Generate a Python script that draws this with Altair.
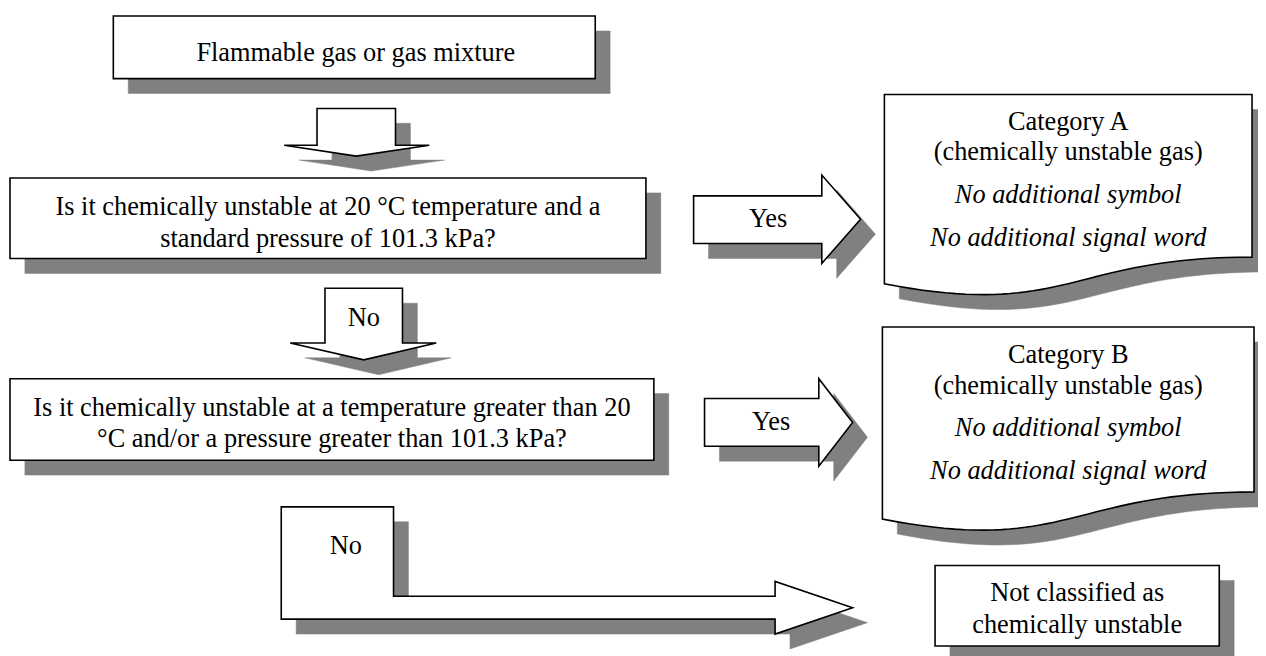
import altair as alt
import pandas as pd
import numpy as np

# ---------------- geometry (pixel units) ----------------
# rectangles
rect_names = ["start", "question_1", "question_2", "not_classified"]
rect_x0 = [114, 10, 10, 941]
rect_y0 = [14, 177, 379, 567]
rect_x1 = [599, 650, 658, 1227]
rect_y1 = [77, 258, 461, 648]

# downward block arrows
down_names = ["down_1", "down_2"]
down_shaft_x0 = [319, 327]
down_shaft_x1 = [398, 405]
down_top = [107, 288]
down_head_x0 = [286, 292]
down_head_x1 = [432, 439]
down_head_y = [144, 343]
down_tip_y = [155, 360]

# rightward block arrows ("Yes")
right_names = ["yes_1", "yes_2"]
right_x0 = [698, 709]
right_shaft_y0 = [195, 399]
right_shaft_y1 = [243, 447]
right_head_x = [827, 824]
right_head_y0 = [174, 379]
right_head_y1 = [263, 467]
right_tip_x = [866, 858]

# elbow arrow ("No" -> not classified)
elbow_left = 283
elbow_top = 508
elbow_inner_x = 396
elbow_shaft_y0 = 598
elbow_shaft_y1 = 621
elbow_head_x = 780
elbow_head_y0 = 583
elbow_head_y1 = 636
elbow_tip_x = 858

# document shapes (wavy bottom)
doc_names = ["category_a", "category_b"]
doc_x0 = [890, 888]
doc_x1 = [1260, 1262]
doc_y0 = [93, 327]
doc_h = [204, 207]

shadow_dx = 15
shadow_dy = 15

# ---------------- texts ----------------
text_labels = [
    "Flammable gas or gas mixture",
    "Is it chemically unstable at 20 °C temperature and a",
    "standard pressure of 101.3 kPa?",
    "No",
    "Is it chemically unstable at a temperature greater than 20",
    "°C and/or a pressure greater than 101.3 kPa?",
    "Yes",
    "Yes",
    "Category A",
    "(chemically unstable gas)",
    "No additional symbol",
    "No additional signal word",
    "Category B",
    "(chemically unstable gas)",
    "No additional symbol",
    "No additional signal word",
    "No",
    "Not classified as",
    "chemically unstable",
]
text_x = [358, 330, 330, 366, 334, 334, 773, 776,
          1075, 1075, 1075, 1075, 1075, 1075, 1075, 1075,
          348, 1084, 1084]
text_y = [59, 214, 246, 326, 417, 448, 226, 431,
          129, 159, 202, 245, 363, 394, 437, 480,
          555, 603, 635]
text_italic = [False, False, False, False, False, False, False, False,
               False, False, True, True, False, False, True, True,
               False, False, False]

# ---------------- build polygons ----------------
polys = {}
for n, a, b, c, d in zip(rect_names, rect_x0, rect_y0, rect_x1, rect_y1):
    polys[n] = [(a, b), (c, b), (c, d), (a, d)]

for n, sx0, sx1, top, hx0, hx1, hy, ty in zip(down_names, down_shaft_x0, down_shaft_x1,
                                              down_top, down_head_x0, down_head_x1,
                                              down_head_y, down_tip_y):
    polys[n] = [(sx0, top), (sx1, top), (sx1, hy), (hx1, hy),
                ((sx0 + sx1) / 2, ty), (hx0, hy), (sx0, hy)]

for n, x0, sy0, sy1, hx, hy0, hy1, tx in zip(right_names, right_x0, right_shaft_y0,
                                             right_shaft_y1, right_head_x, right_head_y0,
                                             right_head_y1, right_tip_x):
    polys[n] = [(x0, sy0), (hx, sy0), (hx, hy0), (tx, (hy0 + hy1) / 2),
                (hx, hy1), (hx, sy1), (x0, sy1)]

polys["elbow"] = [(elbow_left, elbow_top), (elbow_inner_x, elbow_top),
                  (elbow_inner_x, elbow_shaft_y0), (elbow_head_x, elbow_shaft_y0),
                  (elbow_head_x, elbow_head_y0),
                  (elbow_tip_x, (elbow_head_y0 + elbow_head_y1) / 2),
                  (elbow_head_x, elbow_head_y1), (elbow_head_x, elbow_shaft_y1),
                  (elbow_left, elbow_shaft_y1)]

# flowchart "document" outline: cubic bottom edge
t = np.linspace(0, 1, 41)
cx = [1.0, 0.5, 0.5, 0.0]
cy = [0.802, 0.802, 1.1075, 0.934]
bx = (1 - t) ** 3 * cx[0] + 3 * (1 - t) ** 2 * t * cx[1] + 3 * (1 - t) * t ** 2 * cx[2] + t ** 3 * cx[3]
by = (1 - t) ** 3 * cy[0] + 3 * (1 - t) ** 2 * t * cy[1] + 3 * (1 - t) * t ** 2 * cy[2] + t ** 3 * cy[3]
for n, x0, x1, y0, h in zip(doc_names, doc_x0, doc_x1, doc_y0, doc_h):
    w = x1 - x0
    pts = [(x0, y0), (x1, y0)]
    pts += [(x0 + w * u, y0 + h * v) for u, v in zip(bx, by)]
    polys[n] = pts

rows, srows = [], []
for n, pts in polys.items():
    closed = pts + [pts[0]]
    for k, (x, y) in enumerate(closed):
        rows.append({"shape": n, "k": k, "x": x, "y": y})
        srows.append({"shape": n, "k": k, "x": x + shadow_dx, "y": y + shadow_dy})
shape_df = pd.DataFrame(rows)
shadow_df = pd.DataFrame(srows)
text_df = pd.DataFrame({"label": text_labels, "x": text_x, "y": text_y, "italic": text_italic})

W, H = 1266, 656
X = alt.X("x:Q", scale=alt.Scale(domain=[0, W], nice=False, zero=False), axis=None)
Y = alt.Y("y:Q", scale=alt.Scale(domain=[0, H], reverse=True, nice=False, zero=False), axis=None)

shadows = alt.Chart(shadow_df).mark_line(
    fill="#808080", stroke="#808080", strokeWidth=0.5, strokeJoin="miter"
).encode(X, Y, detail="shape:N", order="k:Q")

shapes = alt.Chart(shape_df).mark_line(
    fill="white", stroke="black", strokeWidth=1.6, strokeJoin="miter", strokeCap="square"
).encode(X, Y, detail="shape:N", order="k:Q")

font = "Liberation Serif, Times New Roman, DejaVu Serif, serif"
txt_normal = alt.Chart(text_df).transform_filter("!datum.italic").mark_text(
    font=font, fontSize=26.5, align="center", baseline="alphabetic", color="black"
).encode(X, Y, text="label:N")
txt_italic = alt.Chart(text_df).transform_filter("datum.italic").mark_text(
    font=font, fontSize=26.5, fontStyle="italic", align="center", baseline="alphabetic", color="black"
).encode(X, Y, text="label:N")

chart = alt.layer(shadows, shapes, txt_normal, txt_italic).properties(
    width=W, height=H, autosize="none",
    padding={"left": -8, "top": -8, "right": 0, "bottom": 0},
    background="white",
).configure_view(strokeWidth=0)

chart.save("out.html", embed_options={"renderer": "svg", "actions": False})
